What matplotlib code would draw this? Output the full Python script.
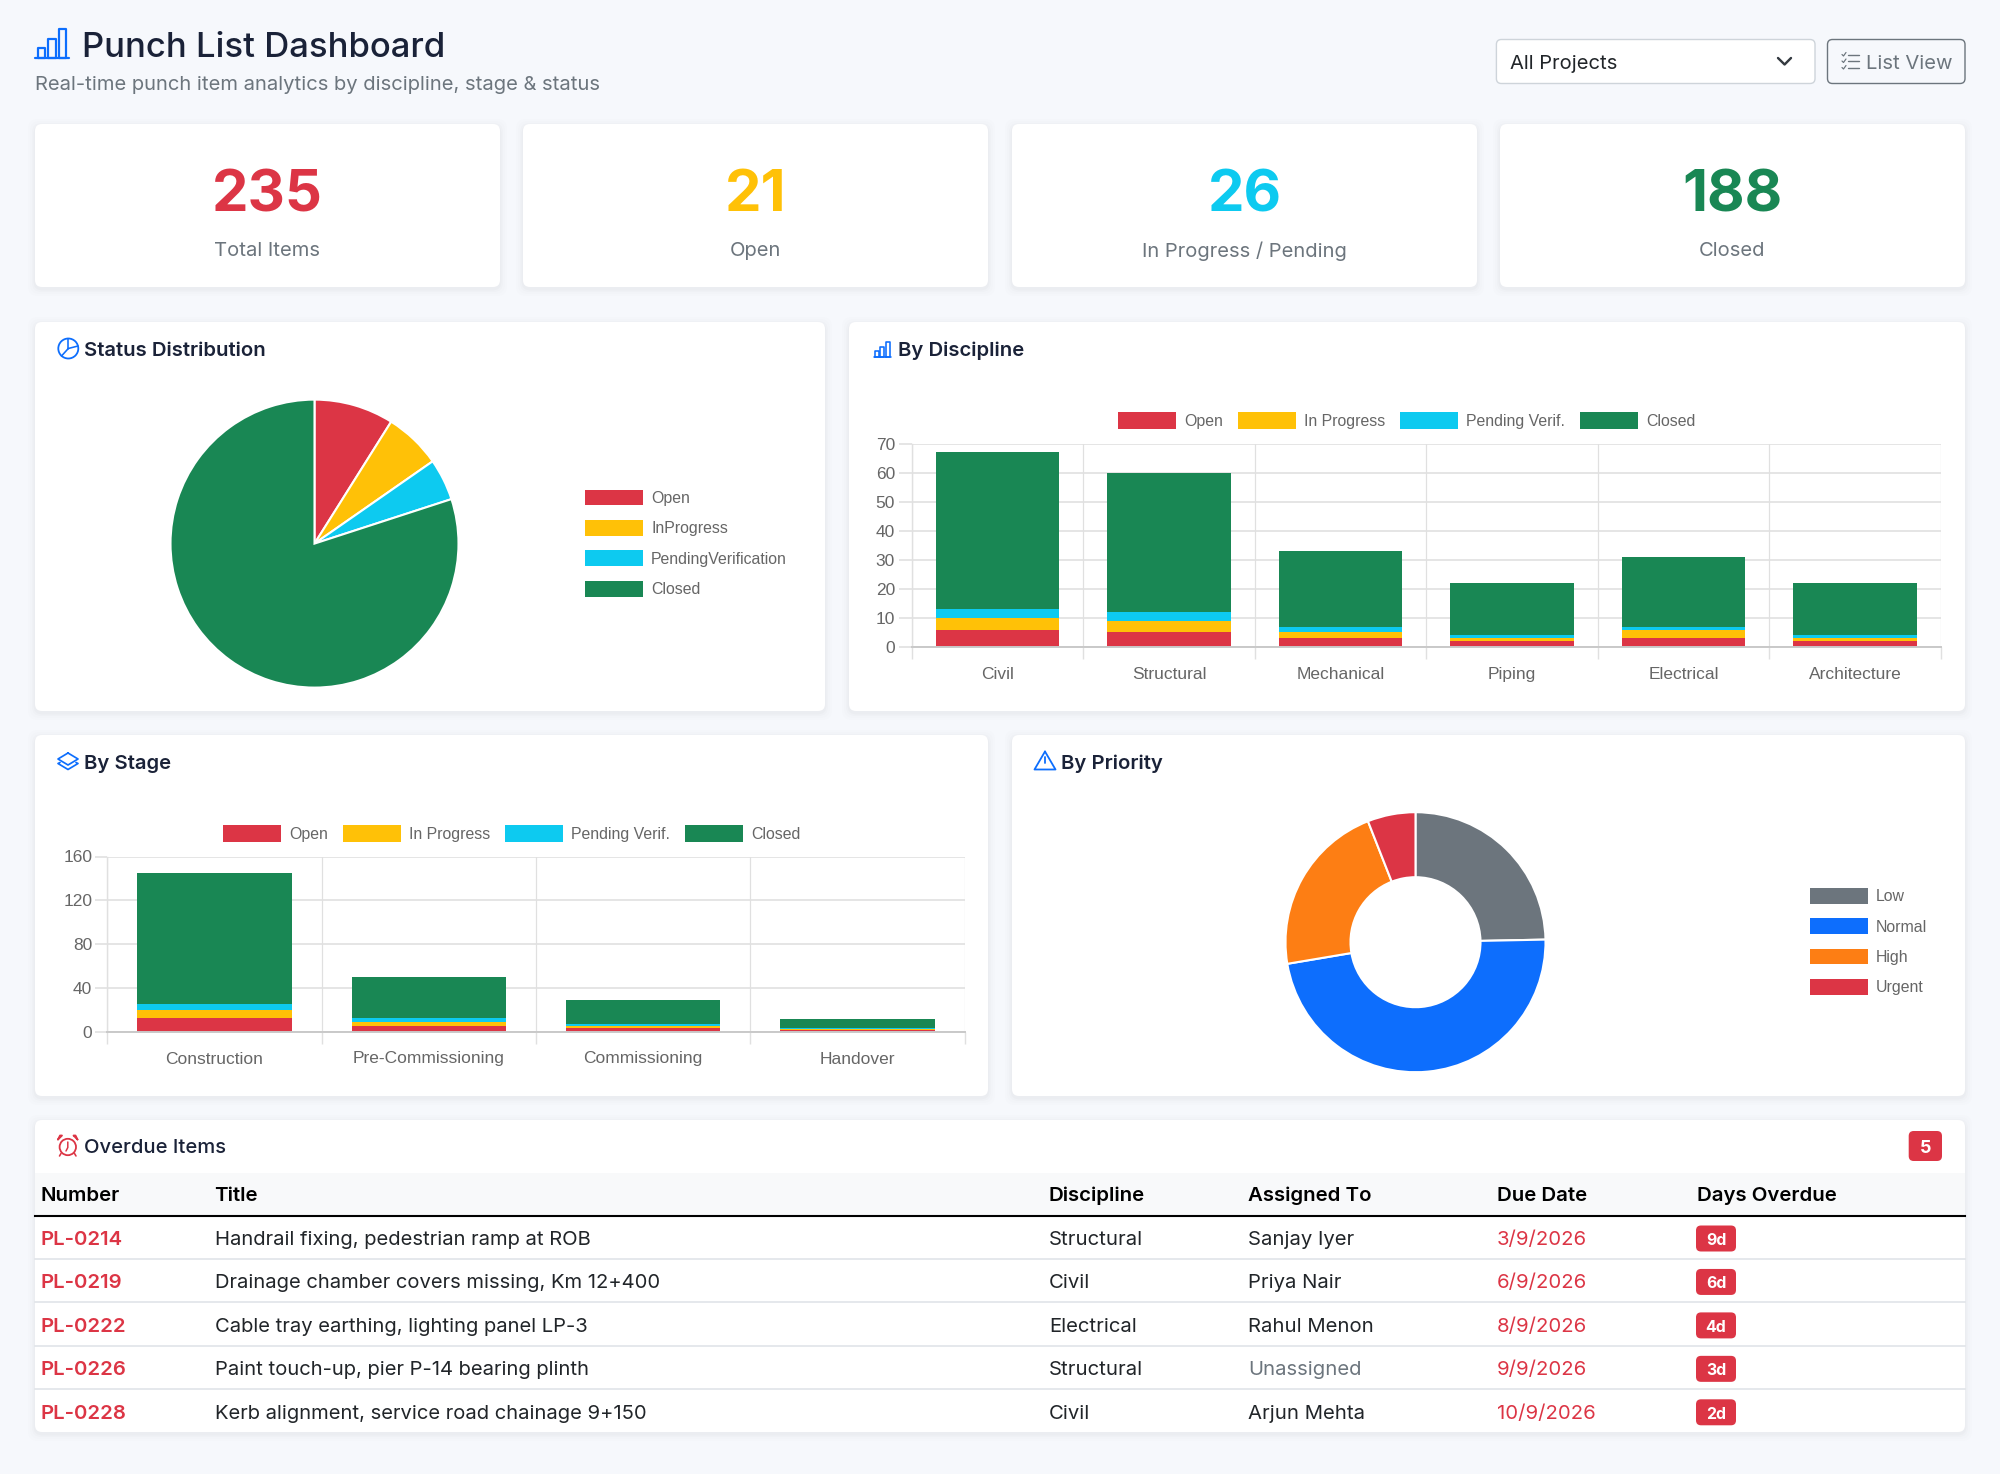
import numpy as np
import matplotlib
matplotlib.use("Agg")
import matplotlib.pyplot as plt
from matplotlib.patches import FancyBboxPatch, Rectangle, Circle, Polygon
from matplotlib.lines import Line2D

# ---------- data ----------
kpi_values = ["235", "21", "26", "188"]
kpi_labels = ["Total Items", "Open", "In Progress / Pending", "Closed"]
status_labels = ["Open", "InProgress", "PendingVerification", "Closed"]
status_values = [21, 15, 11, 188]
series_names = ["Open", "In Progress", "Pending Verif.", "Closed"]
disciplines = ["Civil", "Structural", "Mechanical", "Piping", "Electrical", "Architecture"]
disc_open = [6, 5, 3, 2, 3, 2]
disc_prog = [4, 4, 2, 1, 3, 1]
disc_pend = [3, 3, 2, 1, 1, 1]
disc_closed = [54, 48, 26, 18, 24, 18]
stages = ["Construction", "Pre-Commissioning", "Commissioning", "Handover"]
stage_open = [12, 5, 3, 1]
stage_prog = [8, 4, 2, 1]
stage_pend = [5, 3, 2, 1]
stage_closed = [120, 38, 22, 8]
priority_labels = ["Low", "Normal", "High", "Urgent"]
priority_values = [58, 112, 51, 14]
table_headers = ["Number", "Title", "Discipline", "Assigned To", "Due Date", "Days Overdue"]
numbers = ["PL-0214", "PL-0219", "PL-0222", "PL-0226", "PL-0228"]
titles = ["Handrail fixing, pedestrian ramp at ROB", "Drainage chamber covers missing, Km 12+400",
          "Cable tray earthing, lighting panel LP-3", "Paint touch-up, pier P-14 bearing plinth",
          "Kerb alignment, service road chainage 9+150"]
row_disc = ["Structural", "Civil", "Electrical", "Structural", "Civil"]
assigned = ["Sanjay Iyer", "Priya Nair", "Rahul Menon", "Unassigned", "Arjun Mehta"]
due_dates = ["3/9/2026", "6/9/2026", "8/9/2026", "9/9/2026", "10/9/2026"]
days_over = ["9d", "6d", "4d", "3d", "2d"]

# ---------- style ----------
BG = "#f6f8fc"
RED, YEL, CYAN, GRN = "#dc3545", "#ffc107", "#0dcaf0", "#198754"
BLUE, ORG, GREY = "#0d6efd", "#fd7e14", "#6c757d"
DARK = "#1a2238"
CHART = "#666666"
GRID = "#e0e0e0"
UI = "Inter"
CH = "Liberation Sans"
px = 0.72  # px -> pt at dpi 100
W, H = 2000, 1474

fig = plt.figure(figsize=(W / 100, H / 100), dpi=100, facecolor=BG)
ov = fig.add_axes([0, 0, 1, 1], zorder=0)
ov.set_xlim(0, W); ov.set_ylim(H, 0); ov.axis("off")
top = fig.add_axes([0, 0, 1, 1], zorder=5, facecolor="none")
top.set_xlim(0, W); top.set_ylim(H, 0); top.axis("off")


def card(x0, y0, x1, y1):
    for g, a in [(7, .006), (5, .008), (3, .010), (1.5, .014)]:
        ov.add_patch(FancyBboxPatch((x0 - g, y0 - g + 2), x1 - x0 + 2 * g, y1 - y0 + 2 * g,
                                    boxstyle="round,pad=0,rounding_size=9", fc="black", ec="none", alpha=a))
    ov.add_patch(FancyBboxPatch((x0, y0), x1 - x0, y1 - y0, boxstyle="round,pad=0,rounding_size=7",
                                fc="white", ec="none"))


def T(x, y, s, size, color=DARK, weight="normal", ha="left", fam=UI):
    return top.text(x, y, s, fontsize=size * px, color=color, fontweight=weight, ha=ha, va="center_baseline", family=fam)


def L(xs, ys, c=BLUE, lw=2.0):
    top.add_line(Line2D(xs, ys, color=c, lw=lw * px, solid_capstyle="round", solid_joinstyle="round"))


def bar_icon(x, base, s, lw):
    L([x, x + 34.3 * s], [base, base], lw=lw)
    for (a, b, t) in [(3, 10, 9.7), (13.3, 21, 18.4), (24.3, 31, 28.7)]:
        L([x + a * s, x + a * s, x + b * s, x + b * s, x + a * s],
          [base, base - t * s, base - t * s, base, base], lw=lw)


# ---------- header ----------
bar_icon(35, 57.7, 1, 2.2)
T(81.5, 44, "Punch List Dashboard", 34.7, weight="medium")
T(35, 83, "Real-time punch item analytics by discipline, stage & status", 20.2, color=GREY)

ov.add_patch(FancyBboxPatch((1496.4, 39.5), 318.6, 44, boxstyle="round,pad=0,rounding_size=5", fc="white", ec="#ced4da", lw=1.0))
T(1510, 61.5, "All Projects", 20.2, color="#212529")
L([1778, 1784.6, 1791], [58, 64.5, 58], c="#343a40", lw=2.4)
ov.add_patch(FancyBboxPatch((1827.5, 39.5), 137.5, 44, boxstyle="round,pad=0,rounding_size=5", fc=BG, ec=GREY, lw=1.0))
for yy in (54.5, 61, 67.5):
    L([1848, 1859], [yy, yy], c=GREY, lw=1.4)
    L([1842, 1843.5, 1846], [yy, yy + 1.5, yy - 2], c=GREY, lw=1.2)
T(1866, 61.5, "List View", 20.2, color=GREY)

# ---------- KPI cards ----------
card_x = [(35, 500), (523, 988), (1012, 1477), (1500, 1965)]
kpi_colors = [RED, YEL, CYAN, GRN]
for (a, b), v, l, c in zip(card_x, kpi_values, kpi_labels, kpi_colors):
    card(a, 124, b, 287)
    T((a + b) / 2, 190, v, 58, color=c, weight="bold", ha="center")
    T((a + b) / 2, 249, l, 20.2, color=GREY, ha="center")

# ---------- panels ----------
card(35, 322, 825, 711)
card(849, 322, 1965, 711)
card(35, 735, 988, 1096)
card(1012, 735, 1965, 1096)
card(35, 1120, 1965, 1432)

T(84.5, 349, "Status Distribution", 20.3, weight="semibold")
T(898, 349, "By Discipline", 20.3, weight="semibold")
T(84.5, 762, "By Stage", 20.3, weight="semibold")
T(1061, 762, "By Priority", 20.3, weight="semibold")
T(84.5, 1146, "Overdue Items", 20.2, weight="medium")

# icons of the panel headings
top.add_patch(Circle((68.3, 348.5), 10, fc="none", ec=BLUE, lw=1.8 * px))
L([68.3, 68.3], [338.5, 348.5], lw=1.6)
L([68.3, 78], [348.5, 346], lw=1.6)
L([68.3, 61.5], [348.5, 356], lw=1.6)
bar_icon(873.5, 356.5, 0.52, 1.6)
L([68, 78, 68, 58, 68], [753, 759, 765, 759, 753], lw=1.7)
L([60, 58, 68, 78, 76], [762.5, 763.5, 769.5, 763.5, 762.5], lw=1.7)
L([1045, 1055.5, 1034.5, 1045], [751.5, 769.5, 769.5, 751.5], lw=1.8)
L([1045, 1045], [757, 763], lw=1.8)
L([1045, 1045], [766, 766.3], lw=2)
top.add_patch(Circle((67.8, 1147), 8.2, fc="none", ec=RED, lw=1.8 * px))
L([67.8, 67.8, 66], [1142, 1147.5, 1151], c=RED, lw=1.5)
L([58, 62, 60, 58], [1139.5, 1135.5, 1135.5, 1139.5], c=RED, lw=1.8)
L([77.5, 73.5, 75.5, 77.5], [1139.5, 1135.5, 1135.5, 1139.5], c=RED, lw=1.8)
L([61, 59.5], [1153.5, 1156], c=RED, lw=1.6)
L([74.5, 76], [1153.5, 1156], c=RED, lw=1.6)


def axes_px(x0, y0, x1, y1, z=2):
    return fig.add_axes([x0 / W, 1 - y1 / H, (x1 - x0) / W, (y1 - y0) / H], zorder=z, facecolor="none")


def legend(ax, labels, colors, cx, cy, ncol, hh, lsp=1.0):
    handles = [Rectangle((0, 0), 1, 1, fc=c, ec="none") for c in colors]
    lg = ax.legend(handles, labels, loc="center", bbox_to_anchor=(cx / W, 1 - cy / H), bbox_transform=fig.transFigure,
                   ncol=ncol, frameon=False, borderpad=0, borderaxespad=0, handlelength=3.66, handleheight=hh,
                   handletextpad=0.5, columnspacing=0.95, labelspacing=lsp,
                   prop={"family": CH, "size": 15.85 * px}, labelcolor=CHART)
    return lg


def pie_axes(cx, cy, r):
    m = 1.03
    ax = axes_px(cx - r * m, cy - r * m, cx + r * m, cy + r * m)
    return ax, m


# ---------- status pie ----------
ax, m = pie_axes(314.5, 543.6, 144)
status_colors = [RED, YEL, CYAN, GRN]
ax.pie(status_values, colors=status_colors, startangle=90, counterclock=False, radius=1,
       wedgeprops=dict(edgecolor="white", linewidth=1.5))
ax.set_xlim(-m, m); ax.set_ylim(-m, m)
legend(ax, status_labels, status_colors, 686, 543.3, 1, 1.14, 0.9)

# ---------- priority donut ----------
ax, m = pie_axes(1415.5, 942.2, 130)
prio_colors = [GREY, BLUE, ORG, RED]
ax.pie(priority_values, colors=prio_colors, startangle=90, counterclock=False, radius=1,
       wedgeprops=dict(width=0.5, edgecolor="white", linewidth=1.5))
ax.set_xlim(-m, m); ax.set_ylim(-m, m)
legend(ax, priority_labels, prio_colors, 1868.5, 941.7, 1, 1.14, 0.9)


# ---------- stacked bars ----------
def stacked(box, cats, series, ymax, yticks, leg_xy, tick_len, tick_tail):
    ax = axes_px(*box)
    x = np.arange(len(cats))
    bottom = np.zeros(len(cats))
    for vals, c in zip(series, [RED, YEL, CYAN, GRN]):
        ax.bar(x, vals, width=0.72, bottom=bottom, color=c, zorder=3, linewidth=0)
        bottom += np.array(vals)
    ax.set_xlim(-0.5, len(cats) - 0.5)
    ax.set_ylim(0, ymax)
    ax.set_yticks(yticks)
    ax.set_xticks(x)
    ax.set_xticklabels(cats, family=CH, fontsize=17.4 * px, color=CHART)
    ax.set_xticks(np.arange(len(cats) + 1) - 0.5, minor=True)
    ax.tick_params(axis="x", which="major", length=0, pad=(tick_tail + 8) * px)
    ax.tick_params(axis="x", which="minor", length=tick_tail * px, width=1.0, color=GRID)
    ax.tick_params(axis="y", length=tick_len * px, width=1.2, color=GRID, pad=3 * px,
                   labelsize=17.4 * px, labelcolor=CHART)
    for t in ax.get_yticklabels():
        t.set_family(CH)
    ax.grid(True, axis="y", color=GRID, lw=1.2, zorder=0)
    ax.grid(True, axis="x", which="minor", color=GRID, lw=0.9, zorder=0)
    for s in ("top", "right"):
        ax.spines[s].set_visible(False)
    ax.spines["left"].set_color(GRID); ax.spines["left"].set_linewidth(1.0)
    ax.spines["bottom"].set_color("#c9c9c9"); ax.spines["bottom"].set_linewidth(1.4)
    ax.spines["bottom"].set_zorder(4)
    legend(ax, series_names, [RED, YEL, CYAN, GRN], leg_xy[0], leg_xy[1], 4, 1.2)
    return ax


stacked((911.6, 443.5, 1941, 647), disciplines, [disc_open, disc_prog, disc_pend, disc_closed], 70,
        list(range(0, 71, 10)), (1406.5, 420.7), 13.5, 12)
stacked((107.3, 856.5, 964.7, 1031.5), stages, [stage_open, stage_prog, stage_pend, stage_closed], 160,
        [0, 40, 80, 120, 160], (511.5, 833.7), 12, 12)

# ---------- overdue table ----------
ov.add_patch(FancyBboxPatch((1908.7, 1131), 33.3, 30, boxstyle="round,pad=0,rounding_size=5", fc=RED, ec="none"))
T(1925.3, 1146.5, "5", 18, color="white", weight="bold", ha="center")
ov.add_patch(Rectangle((35, 1173), 1930, 42, fc="#f8f9fa", ec="none"))
col_x = [40.5, 214.5, 1049, 1248, 1497, 1697]
for cx_, h in zip(col_x, table_headers):
    T(cx_, 1194, h, 20.4, color="black", weight="semibold")
ov.add_line(Line2D([35, 1965], [1215.5, 1215.5], color="black", lw=1.5))
row_h = 43.45
for i in range(len(numbers)):
    y = 1238 + i * row_h
    if i < len(numbers) - 1:
        ov.add_line(Line2D([35, 1965], [1259 + i * row_h] * 2, color="#e3e6ea", lw=1.3))
    T(col_x[0], y, numbers[i], 20.3, color=RED, weight="semibold")
    T(215, y, titles[i], 20.2, color="#212529")
    T(col_x[2], y, row_disc[i], 20.3, color="#212529")
    T(col_x[3], y, assigned[i], 20.3, color=GREY if assigned[i] == "Unassigned" else "#212529")
    T(col_x[4], y, due_dates[i], 20.3, color=RED)
    ov.add_patch(FancyBboxPatch((1696, y - 12.5), 40, 26, boxstyle="round,pad=0,rounding_size=5", fc=RED, ec="none"))
    T(1716, y + 1, days_over[i], 15.8, color="white", weight="bold", ha="center")

fig.savefig("out.png", dpi=100, facecolor=BG)
